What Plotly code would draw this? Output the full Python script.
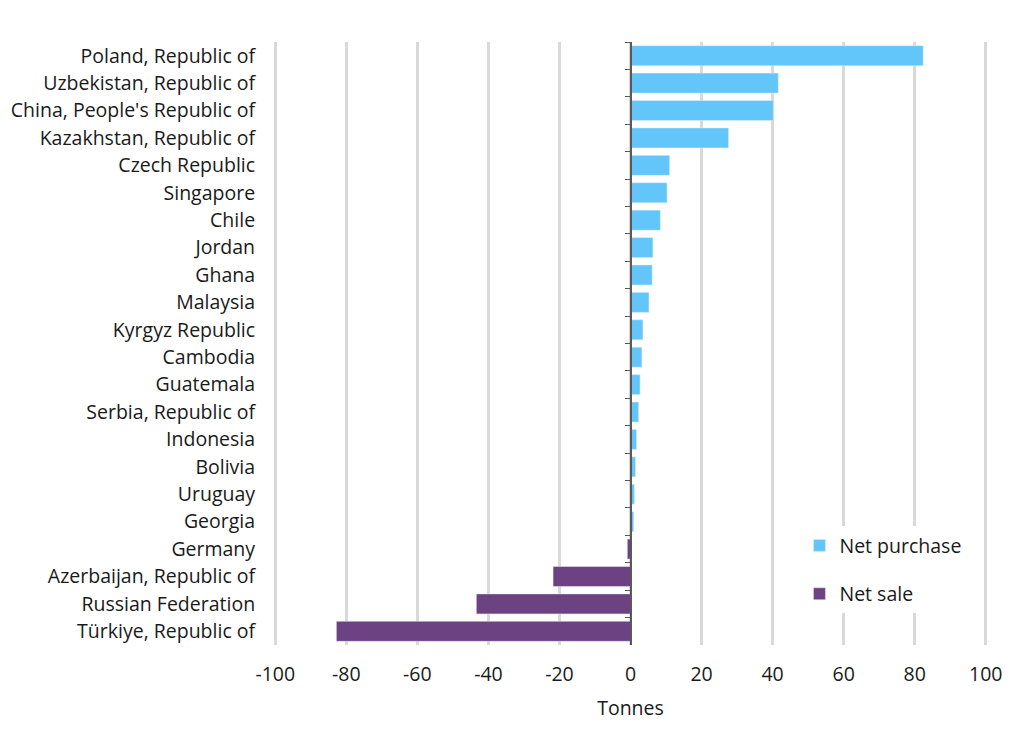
import plotly.graph_objects as go

# Net central bank gold purchases / sales, tonnes
countries = ["Poland, Republic of", "Uzbekistan, Republic of", "China, People's Republic of",
             "Kazakhstan, Republic of", "Czech Republic", "Singapore", "Chile", "Jordan",
             "Ghana", "Malaysia", "Kyrgyz Republic", "Cambodia", "Guatemala",
             "Serbia, Republic of", "Indonesia", "Bolivia", "Uruguay", "Georgia",
             "Germany", "Azerbaijan, Republic of", "Russian Federation", "Türkiye, Republic of"]
tonnes = [82.4, 41.6, 40.2, 27.6, 11.0, 10.3, 8.4, 6.3,
          6.1, 5.2, 3.5, 3.2, 2.7, 2.3, 1.7, 1.4, 1.1, 0.9,
          -0.9, -21.8, -43.4, -82.8]
x_ticks = [-100, -80, -60, -40, -20, 0, 20, 40, 60, 80, 100]
x_labels = ["-100", "-80", "-60", "-40", "-20", "0", "20", "40", "60", "80", "100"]

#split into the two legend series
buy_c = [c for c, v in zip(countries, tonnes) if v >= 0]
buy_v = [v for v in tonnes if v >= 0]
sell_c = [c for c, v in zip(countries, tonnes) if v < 0]
sell_v = [v for v in tonnes if v < 0]

fig = go.Figure()
fig.add_trace(go.Bar(x=buy_v, y=buy_c, orientation="h", name="Net purchase",
                     marker=dict(color="#63c6fb"), legendgroup="a"))
fig.add_trace(go.Bar(x=sell_v, y=sell_c, orientation="h", name="Net sale",
                     marker=dict(color="#6c4283"), legendgroup="b"))
#invisible trace just to get the axis line + boundary ticks at zero
fig.add_trace(go.Bar(x=[0] * len(countries), y=countries, orientation="h", yaxis="y2",
                     showlegend=False, hoverinfo="skip", marker=dict(color="rgba(0,0,0,0)")))

#page body has an 8px margin, so margins are nudged to compensate
#range is a touch wider than +-100 so the edge gridlines still get drawn
fig.update_layout(
    width=1024, height=734,
    margin=dict(l=263, r=42, t=34, b=97),
    plot_bgcolor="white", paper_bgcolor="white",
    barmode="relative", bargap=0.27,
    font=dict(family="Open Sans", size=19.5, color="#1a1a1a"),
    xaxis=dict(range=[-101.2, 101.2], tickvals=x_ticks, ticktext=x_labels, showgrid=True,
               gridcolor="#d9d9d9", gridwidth=3, zeroline=False, ticks="outside",
               ticklen=12, tickcolor="rgba(0,0,0,0)", automargin=False,
               title=dict(text="Tonnes", standoff=14,
                          font=dict(family="Open Sans", size=19.5, color="#1a1a1a"))),
    yaxis=dict(type="category", categoryorder="array", categoryarray=countries,
               autorange="reversed", ticks="outside", ticklen=11, automargin=False,
               tickcolor="rgba(0,0,0,0)", showgrid=False),
    yaxis2=dict(type="category", categoryorder="array", categoryarray=countries,
                autorange="reversed", overlaying="y", anchor="free", position=0.5,
                side="left", showline=True, linecolor="#595959", linewidth=1.5,
                ticks="outside", ticklen=5, tickcolor="#595959", tickson="boundaries",
                showticklabels=False, showgrid=False, automargin=False),
    legend=dict(x=0.735, y=0.197, xanchor="left", yanchor="top", bgcolor="white",
                tracegroupgap=20, itemwidth=30),
)

fig.write_html("out.html")
